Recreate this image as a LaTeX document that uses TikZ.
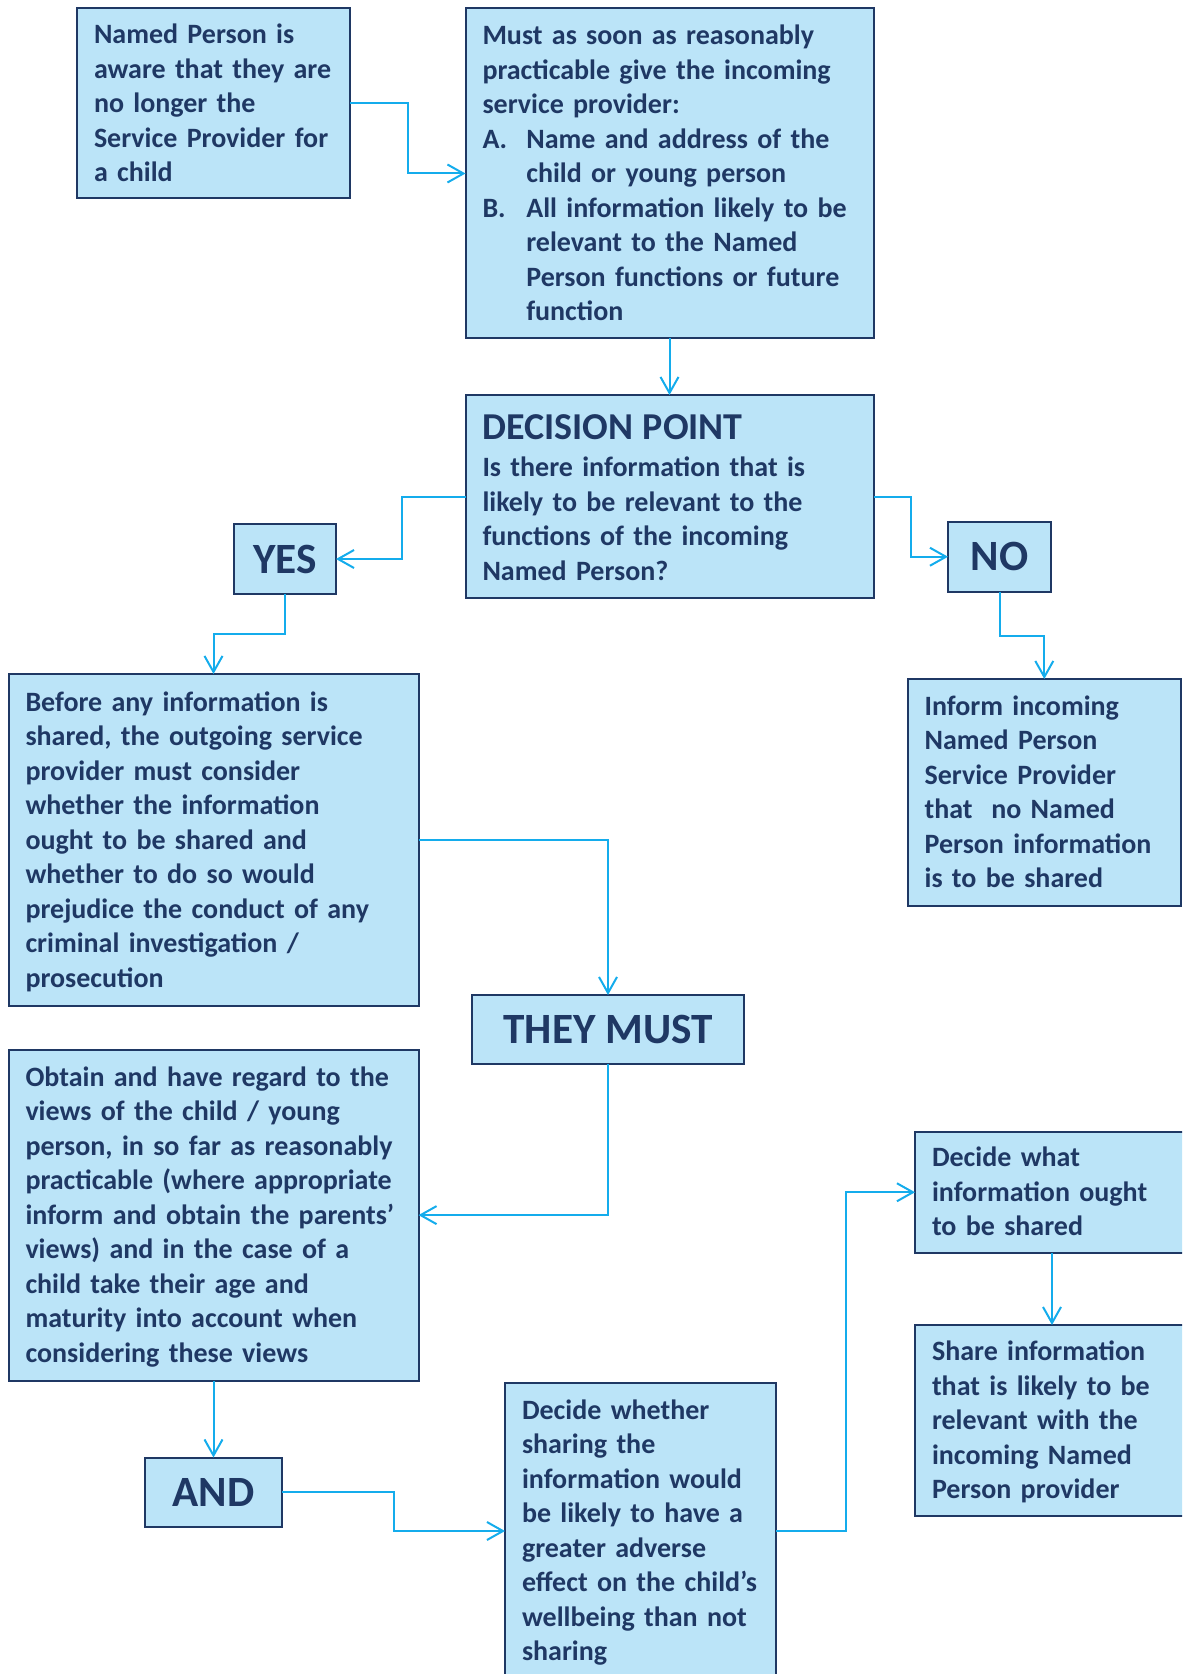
\documentclass[tikz,border=0pt]{standalone}
\usepackage{fontspec}
\setmainfont{Carlito}
\usetikzlibrary{arrows.meta}
\definecolor{boxfill}{RGB}{187,228,248}
\definecolor{navy}{RGB}{31,56,100}
\definecolor{arr}{RGB}{20,172,236}
\newcommand{\boxlines}[2][-1.1pt]{\raisebox{#1}[\height][\depth]{\begin{tabular}{@{}l@{}}#2\end{tabular}}}
\begin{document}
\begin{tikzpicture}[x=0.5pt,y=-0.5pt,
  box/.style={draw=navy, line width=1pt, fill=boxfill, text=navy,
    font=\bfseries\fontsize{14}{17.25}\selectfont, anchor=north west,
    inner xsep=8.5pt, inner ysep=0pt, align=left, outer sep=0pt},
  head/.style={draw=navy, line width=1pt, fill=boxfill, text=navy,
    font=\bfseries\fontsize{21.6}{26}\selectfont, anchor=north west,
    inner sep=0pt, align=center, outer sep=0pt},
  conn/.style={draw=arr, line width=1pt, -{Straight Barb[length=8pt,width=9pt]}}
]
\useasboundingbox (0,0) rectangle (1182,1674);
\clip (0,0) rectangle (1182,1674);

\node[box, minimum width=136.5pt, minimum height=95pt, text width=119.5pt] (b1) at (77,8.5)
 {\boxlines{Named Person is\\aware that they are\\no longer the\\Service Provider for\\a child}};

\node[box, minimum width=204pt, minimum height=165pt, text width=187pt] (b2) at (465.5,8.5)
 {\boxlines{Must as soon as reasonably\\
  practicable give the incoming\\
  service provider:\\
  \makebox[21.9pt][l]{A.}Name and address of the\\
  \hspace*{21.9pt}child or young person\\
  \makebox[21.9pt][l]{B.}All information likely to be\\
  \hspace*{21.9pt}relevant to the Named\\
  \hspace*{21.9pt}Person functions or future\\
  \hspace*{21.9pt}function}};

\node[box, minimum width=204pt, minimum height=101.5pt, text width=187pt] (dec) at (465.5,395)
 {\boxlines[-3pt]{{\fontsize{19}{23}\selectfont DECISION POINT}\\[1.5pt]
  Is there information that is\\likely to be relevant to the\\functions of the incoming\\Named Person?}};

\node[head, minimum width=51pt, minimum height=35pt] (yes) at (234,524) {YES};
\node[head, minimum width=51.5pt, minimum height=34.75pt] (no) at (948,522) {NO};

\node[box, minimum width=205pt, minimum height=166pt, text width=188pt] (before) at (8.5,674)
 {\boxlines{Before any information is\\shared, the outgoing service\\provider must consider\\whether the information\\ought to be shared and\\whether to do so would\\prejudice the conduct of any\\criminal investigation /\\prosecution}};

\node[box, minimum width=136.7pt, minimum height=113.25pt, text width=119.7pt] (inform) at (907.6,679)
 {\boxlines{Inform incoming\\Named Person\\Service Provider\\that~ no Named\\Person information\\is to be shared}};

\node[head, minimum width=136pt, minimum height=34.25pt] (must) at (472,995) {THEY MUST};

\node[box, minimum width=205pt, minimum height=165.5pt, text width=188pt] (obtain) at (8.5,1049.6)
 {\boxlines{Obtain and have regard to the\\views of the child / young\\person, in so far as reasonably\\practicable (where appropriate\\inform and obtain the parents’\\views) and in the case of a\\child take their age and\\maturity into account when\\considering these views}};

\node[head, minimum width=68.5pt, minimum height=34.75pt] (and) at (145,1457.5) {AND};

\node[box, minimum width=135.5pt, minimum height=148pt, text width=118.5pt] (dw) at (505,1383)
 {\boxlines{Decide whether\\sharing the\\information would\\be likely to have a\\greater adverse\\effect on the child’s\\wellbeing than not\\sharing}};

\node[box, minimum width=137pt, minimum height=60.25pt, text width=120pt] (dwhat) at (915,1132)
 {\boxlines{Decide what\\information ought\\to be shared}};

\node[box, minimum width=137pt, minimum height=95.5pt, text width=120pt] (share) at (915,1325)
 {\boxlines{Share information\\that is likely to be\\relevant with the\\incoming Named\\Person provider}};

\draw[conn] (b1.east) -- ++(58,0) |- (b2.west);
\draw[conn] (b2.south) -- (dec.north);
\draw[conn] (dec.west) -- ++(-64,0) |- (yes.east);
\draw[conn] (dec.east) -- ++(37.5,0) |- (no.west);
\draw[conn] (yes.south) -- ++(0,40) -| (before.north);
\draw[conn] (no.south) -- ++(0,44.5) -| (inform.north);
\draw[conn] (before.east) -| (must.north);
\draw[conn] (must.south) |- (obtain.east);
\draw[conn] (obtain.south) -- (and.north);
\draw[conn] (and.east) -- ++(112,0) |- (dw.west);
\draw[conn] (dw.east) -- ++(69.7,0) |- (dwhat.west);
\draw[conn] (dwhat.south) -- (share.north);
\end{tikzpicture}
\end{document}
